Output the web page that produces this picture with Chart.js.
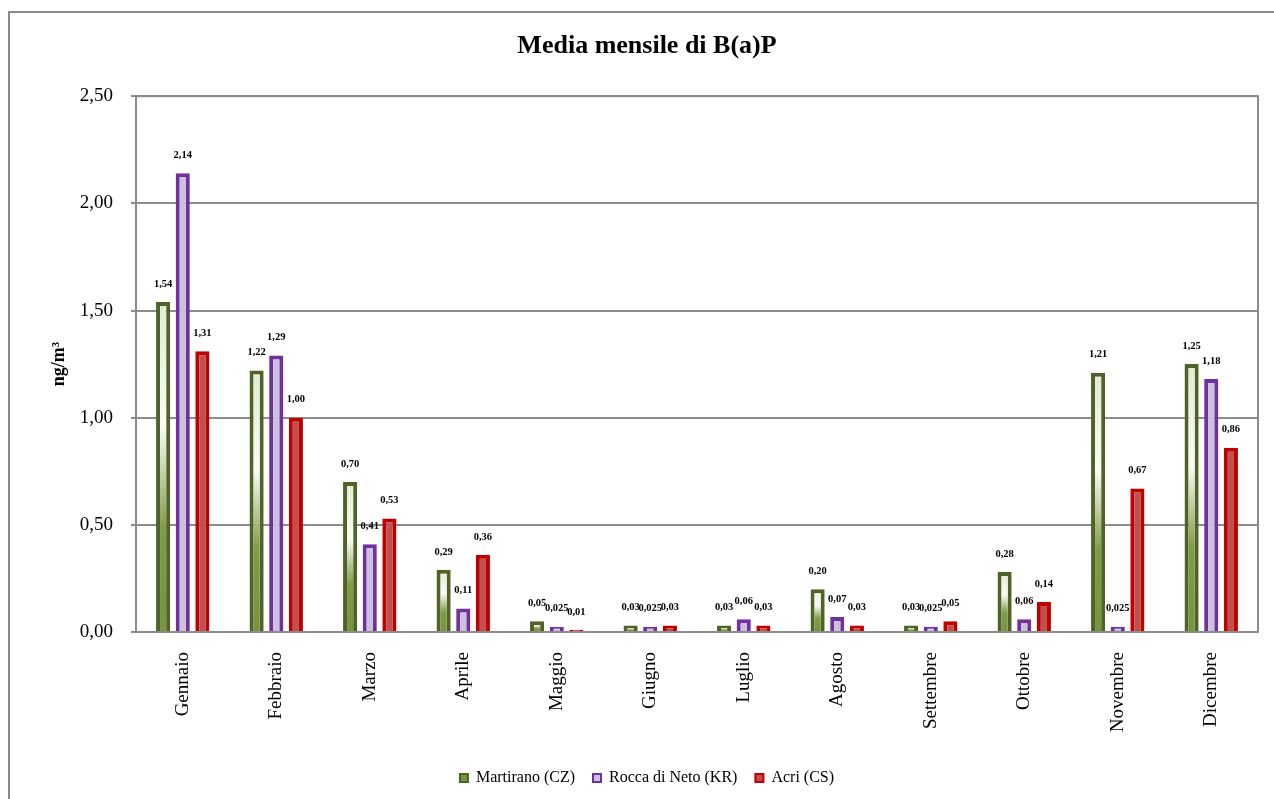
<!DOCTYPE html>
<html>
<head>
<meta charset="utf-8">
<script src="https://cdn.jsdelivr.net/npm/chart.js@4.4.0/dist/chart.umd.min.js"></script>
<style>
  html, body { margin: 0; padding: 0; background: #fff; }
  #wrap { width: 1274px; height: 799px; }
</style>
</head>
<body>
<div id="wrap"><canvas id="chart" width="1274" height="799"></canvas></div>
<script>
const months = ['Gennaio', 'Febbraio', 'Marzo', 'Aprile', 'Maggio', 'Giugno', 'Luglio', 'Agosto', 'Settembre', 'Ottobre', 'Novembre', 'Dicembre'];
const martirano = [1.54, 1.22, 0.70, 0.29, 0.05, 0.03, 0.03, 0.20, 0.03, 0.28, 1.21, 1.25];
const roccaDiNeto = [2.14, 1.29, 0.41, 0.11, 0.025, 0.025, 0.06, 0.07, 0.025, 0.06, 0.025, 1.18];
const acri = [1.31, 1.00, 0.53, 0.36, 0.01, 0.03, 0.03, 0.03, 0.05, 0.14, 0.67, 0.86];
const yTicks = [0, 0.5, 1, 1.5, 2, 2.5];

const serif = "'Liberation Serif', 'Times New Roman', serif";

// numeri all'italiana: 1,54 / 0,025
function fmt(v) {
    let s = v.toFixed(2);
    if (Math.abs(Number(s) - v) > 1e-9) s = v.toFixed(3);
    return s.replace('.', ',');
}

// sfumatura verticale delle barre verdi
function greenFill(ctx) {
    const chart = ctx.chart;
    if (!chart.chartArea || ctx.type !== 'data') return '#77933c';
    const y = chart.scales.y;
    const top = y.getPixelForValue(ctx.raw);
    const base = y.getPixelForValue(0);
    if (base - top < 2) return '#77933c';
    const g = chart.ctx.createLinearGradient(0, top, 0, base);
    g.addColorStop(0, '#e3ead1');
    g.addColorStop(0.38, '#fbfcf8');
    g.addColorStop(0.68, '#819c48');
    g.addColorStop(1, '#77933c');
    return g;
}

const frames = {
    id: 'frames',
    beforeDraw(chart) {
        const c = chart.ctx;
        c.save();
        c.fillStyle = '#fff';
        c.fillRect(0, 0, chart.width, chart.height);
        c.strokeStyle = '#8a8a8a';
        c.lineWidth = 2;
        c.strokeRect(9, 12, 1300, 900);
        c.restore();
    },
    afterDatasetsDraw(chart) {
        const a = chart.chartArea;
        const c = chart.ctx;
        c.save();
        c.strokeStyle = '#8c8c8c';
        c.lineWidth = 2;
        c.strokeRect(a.left, a.top, a.right - a.left, a.bottom - a.top);
        // etichette dei valori
        c.font = "bold 10.5px " + serif;
        c.fillStyle = '#000';
        c.textAlign = 'center';
        c.textBaseline = 'middle';
        chart.data.datasets.forEach((ds, i) => {
            chart.getDatasetMeta(i).data.forEach((bar, j) => {
                c.fillText(fmt(ds.data[j]), bar.x, bar.y - 18);
            });
        });
        c.restore();
    }
};

new Chart(document.getElementById('chart'), {
    type: 'bar',
    data: {
        labels: months,
        datasets: [
            { label: 'Martirano (CZ)', data: martirano, backgroundColor: greenFill, borderColor: '#4f6228', borderWidth: 4 },
            { label: 'Rocca di Neto (KR)', data: roccaDiNeto, backgroundColor: '#ccc1da', borderColor: '#7030a0', borderWidth: 4 },
            { label: 'Acri (CS)', data: acri, backgroundColor: '#c0504d', borderColor: '#c00000', borderWidth: 4 }
        ]
    },
    options: {
        responsive: false,
        animation: false,
        categoryPercentage: 0.63,
        barPercentage: 0.72,
        layout: { padding: { left: 36, right: 16, top: 11, bottom: 3 } },
        plugins: {
            title: {
                display: true,
                text: 'Media mensile di B(a)P',
                color: '#000',
                font: { family: serif, size: 26, weight: 'bold' },
                padding: { top: 20, bottom: 34 }
            },
            legend: {
                position: 'bottom',
                labels: {
                    color: '#000',
                    font: { family: serif, size: 16 },
                    boxWidth: 8,
                    boxHeight: 8,
                    padding: 18,
                    generateLabels: () => [
                        { text: 'Martirano (CZ)', fillStyle: '#77933c', strokeStyle: '#4f6228', lineWidth: 2, datasetIndex: 0 },
                        { text: 'Rocca di Neto (KR)', fillStyle: '#ccc1da', strokeStyle: '#7030a0', lineWidth: 2, datasetIndex: 1 },
                        { text: 'Acri (CS)', fillStyle: '#c0504d', strokeStyle: '#c00000', lineWidth: 2, datasetIndex: 2 }
                    ]
                }
            },
            tooltip: { enabled: false }
        },
        scales: {
            x: {
                grid: { display: false },
                border: { display: true, color: '#8c8c8c', width: 2 },
                ticks: {
                    color: '#000',
                    font: { family: serif, size: 19 },
                    minRotation: 90,
                    maxRotation: 90,
                    padding: 12
                },
                afterFit(scale) { scale.height = 120; }
            },
            y: {
                min: 0,
                max: 2.5,
                afterBuildTicks(scale) { scale.ticks = yTicks.map(v => ({ value: v })); },
                grid: { color: '#8c8c8c', lineWidth: 2, tickLength: 5 },
                border: { display: true, color: '#8c8c8c', width: 2 },
                ticks: {
                    color: '#000',
                    font: { family: serif, size: 19 },
                    padding: 18,
                    callback: v => fmt(v)
                },
                title: {
                    display: true,
                    text: 'ng/m³',
                    color: '#000',
                    font: { family: serif, size: 18, weight: 'bold' },
                    padding: { top: 13, bottom: 0 }
                },
                afterFit(scale) { scale.width = 100; }
            }
        }
    },
    plugins: [frames]
});
</script>
</body>
</html>
